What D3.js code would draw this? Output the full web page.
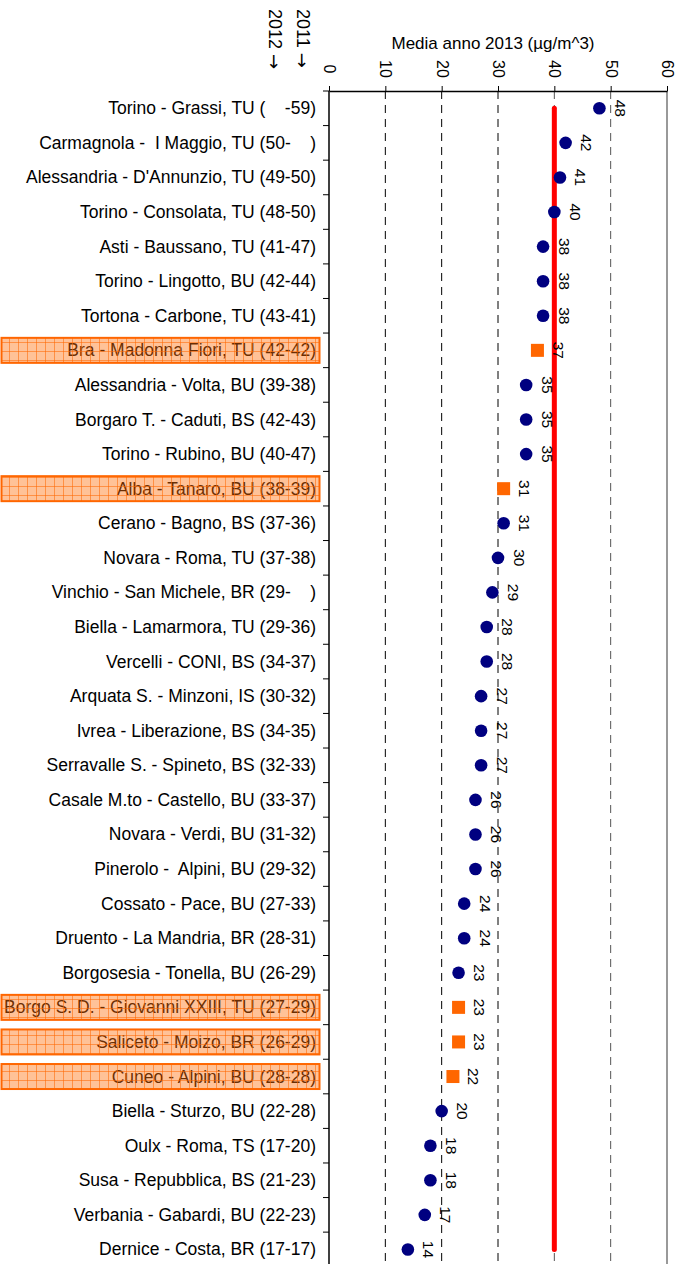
<!DOCTYPE html>
<html>
<head>
<meta charset="utf-8">
<script src="https://cdn.jsdelivr.net/npm/d3@7"></script>
<style>
  body { margin: 0; background: #fff; }
  text { font-family: "Liberation Sans", Arial, sans-serif; }
</style>
</head>
<body>
<svg id="chart" width="684" height="1264"></svg>
<script>
// stations (label includes 2011-2012 values)
var stations = [
  "Torino - Grassi, TU (    -59)",
  "Carmagnola -  I Maggio, TU (50-    )",
  "Alessandria - D'Annunzio, TU (49-50)",
  "Torino - Consolata, TU (48-50)",
  "Asti - Baussano, TU (41-47)",
  "Torino - Lingotto, BU (42-44)",
  "Tortona - Carbone, TU (43-41)",
  "Bra - Madonna Fiori, TU (42-42)",
  "Alessandria - Volta, BU (39-38)",
  "Borgaro T. - Caduti, BS (42-43)",
  "Torino - Rubino, BU (40-47)",
  "Alba - Tanaro, BU (38-39)",
  "Cerano - Bagno, BS (37-36)",
  "Novara - Roma, TU (37-38)",
  "Vinchio - San Michele, BR (29-    )",
  "Biella - Lamarmora, TU (29-36)",
  "Vercelli - CONI, BS (34-37)",
  "Arquata S. - Minzoni, IS (30-32)",
  "Ivrea - Liberazione, BS (34-35)",
  "Serravalle S. - Spineto, BS (32-33)",
  "Casale M.to - Castello, BU (33-37)",
  "Novara - Verdi, BU (31-32)",
  "Pinerolo -  Alpini, BU (29-32)",
  "Cossato - Pace, BU (27-33)",
  "Druento - La Mandria, BR (28-31)",
  "Borgosesia - Tonella, BU (26-29)",
  "Borgo S. D. - Giovanni XXIII, TU (27-29)",
  "Saliceto - Moizo, BR (26-29)",
  "Cuneo - Alpini, BU (28-28)",
  "Biella - Sturzo, BU (22-28)",
  "Oulx - Roma, TS (17-20)",
  "Susa - Repubblica, BS (21-23)",
  "Verbania - Gabardi, BU (22-23)",
  "Dernice - Costa, BR (17-17)"
];
var values2013 = [48, 42, 41, 40, 38, 38, 38, 37, 35, 35, 35, 31, 31, 30, 29, 28, 28, 27, 27, 27,
                  26, 26, 26, 24, 24, 23, 23, 23, 22, 20, 18, 18, 17, 14];
// stations highlighted (orange square + boxed label)
var highlighted = [
  "Bra - Madonna Fiori, TU (42-42)",
  "Alba - Tanaro, BU (38-39)",
  "Borgo S. D. - Giovanni XXIII, TU (27-29)",
  "Saliceto - Moizo, BR (26-29)",
  "Cuneo - Alpini, BU (28-28)"
];
var xTicks = [0, 10, 20, 30, 40, 50, 60];
var limitValue = 40;
var axisTitle = "Media anno 2013 (µg/m^3)";
var yearHeads = ["2011", "2012"];

var data = stations.map(function(s, i) {
  return { name: s, value: values2013[i], hl: highlighted.indexOf(s) >= 0 };
});

var svg = d3.select("#chart");
var topY = 91, rowH = 34.58;
var x = d3.scaleLinear().domain([0, 60]).range([329, 667]);
var y = d3.scaleBand().domain(stations).range([topY, topY + rowH * stations.length]);

// hatch pattern for highlighted labels
var pat = svg.append("defs").append("pattern").attr("id", "grid")
  .attr("patternUnits", "userSpaceOnUse").attr("width", 9).attr("height", 9);
pat.append("rect").attr("width", 9).attr("height", 9).attr("fill", "rgba(255,110,10,0.42)");
pat.append("path").attr("d", "M0,0.5H9M0.5,0V9").attr("stroke", "rgba(255,102,0,0.55)").attr("stroke-width", 1);

// gridlines
svg.append("g").selectAll("line").data(xTicks.slice(1)).enter().append("line")
  .attr("x1", function(d) { return x(d); }).attr("x2", function(d) { return x(d); })
  .attr("y1", topY).attr("y2", 1264)
  .attr("stroke", function(d) { return d == 60 ? "#999" : (d >= 40 ? "#555" : "#000"); })
  .attr("stroke-width", function(d) { return d == 60 ? 2 : 1; })
  .attr("stroke-dasharray", function(d) { return d == 60 ? null : "8,6"; });

// top axis
var gx = svg.append("g").attr("transform", "translate(0," + topY + ")")
  .call(d3.axisTop(x).tickValues(xTicks).tickSize(5).tickSizeOuter(0));
gx.select(".domain").attr("stroke", "#000").attr("stroke-width", 1.5);
gx.selectAll(".tick line").attr("stroke", "#000");
gx.selectAll(".tick text")
  .attr("y", 0).attr("dy", null)
  .attr("transform", "translate(0,-22) rotate(90)")
  .attr("text-anchor", "middle").attr("dominant-baseline", "central")
  .style("font-size", "16px").attr("fill", "#000");

// left axis
var gy = svg.append("g").attr("transform", "translate(329,0)");
gy.append("line").attr("x1", 0).attr("x2", 0).attr("y1", topY).attr("y2", 1264)
  .attr("stroke", "#000").attr("stroke-width", 1.5);
gy.selectAll(".tk").data(d3.range(stations.length + 1)).enter().append("line")
  .attr("x1", -6).attr("x2", 0)
  .attr("y1", function(i) { return topY + i * rowH; }).attr("y2", function(i) { return topY + i * rowH; })
  .attr("stroke", "#000");

// labels
var lab = svg.append("g");
lab.selectAll("text").data(data).enter().append("text")
  .attr("x", 316).attr("y", function(d) { return y(d.name) + rowH / 2; })
  .attr("text-anchor", "end").attr("dominant-baseline", "central")
  .style("font-size", "17.5px").style("white-space", "pre")
  .text(function(d) { return d.name; });
lab.selectAll("rect").data(data.filter(function(d) { return d.hl; })).enter().append("rect")
  .attr("x", 1.5).attr("width", 318)
  .attr("y", function(d) { return y(d.name) + rowH / 2 - 12.5; }).attr("height", 25)
  .attr("fill", "url(#grid)").attr("stroke", "#ff6600").attr("stroke-width", 2);

// limit line
svg.append("line")
  .attr("x1", x(limitValue)).attr("x2", x(limitValue))
  .attr("y1", y(stations[0]) + rowH / 2).attr("y2", y(stations[stations.length - 1]) + rowH / 2)
  .attr("stroke", "#ff0000").attr("stroke-width", 5).attr("stroke-linecap", "round");

// markers
var pts = svg.append("g");
pts.selectAll("circle").data(data.filter(function(d) { return !d.hl; })).enter().append("circle")
  .attr("cx", function(d) { return x(d.value); })
  .attr("cy", function(d) { return y(d.name) + rowH / 2; })
  .attr("r", 6.3).attr("fill", "#000080");
pts.selectAll("rect").data(data.filter(function(d) { return d.hl; })).enter().append("rect")
  .attr("x", function(d) { return x(d.value) - 6.5; })
  .attr("y", function(d) { return y(d.name) + rowH / 2 - 6.5; })
  .attr("width", 13).attr("height", 13).attr("fill", "#ff6600");

// value labels
pts.selectAll("text").data(data).enter().append("text")
  .attr("transform", function(d) {
    return "translate(" + (x(d.value) + 21) + "," + (y(d.name) + rowH / 2) + ") rotate(90)";
  })
  .attr("text-anchor", "middle").attr("dominant-baseline", "central")
  .style("font-size", "15.5px")
  .text(function(d) { return d3.format(".0f")(d.value); });

// header
svg.append("text").attr("x", 493).attr("y", 49).attr("text-anchor", "middle")
  .style("font-size", "17px").text(axisTitle);
var yh = svg.append("g").selectAll("text").data(yearHeads).enter().append("text")
  .attr("transform", function(d, i) { return "translate(" + (303 - i * 28) + ",9) rotate(90)"; })
  .attr("dominant-baseline", "central").style("font-size", "18px");
yh.append("tspan").text(function(d) { return d + " "; });
yh.append("tspan").style("font-family", "DejaVu Sans").style("font-size", "18px").text("→");
</script>
</body>
</html>
